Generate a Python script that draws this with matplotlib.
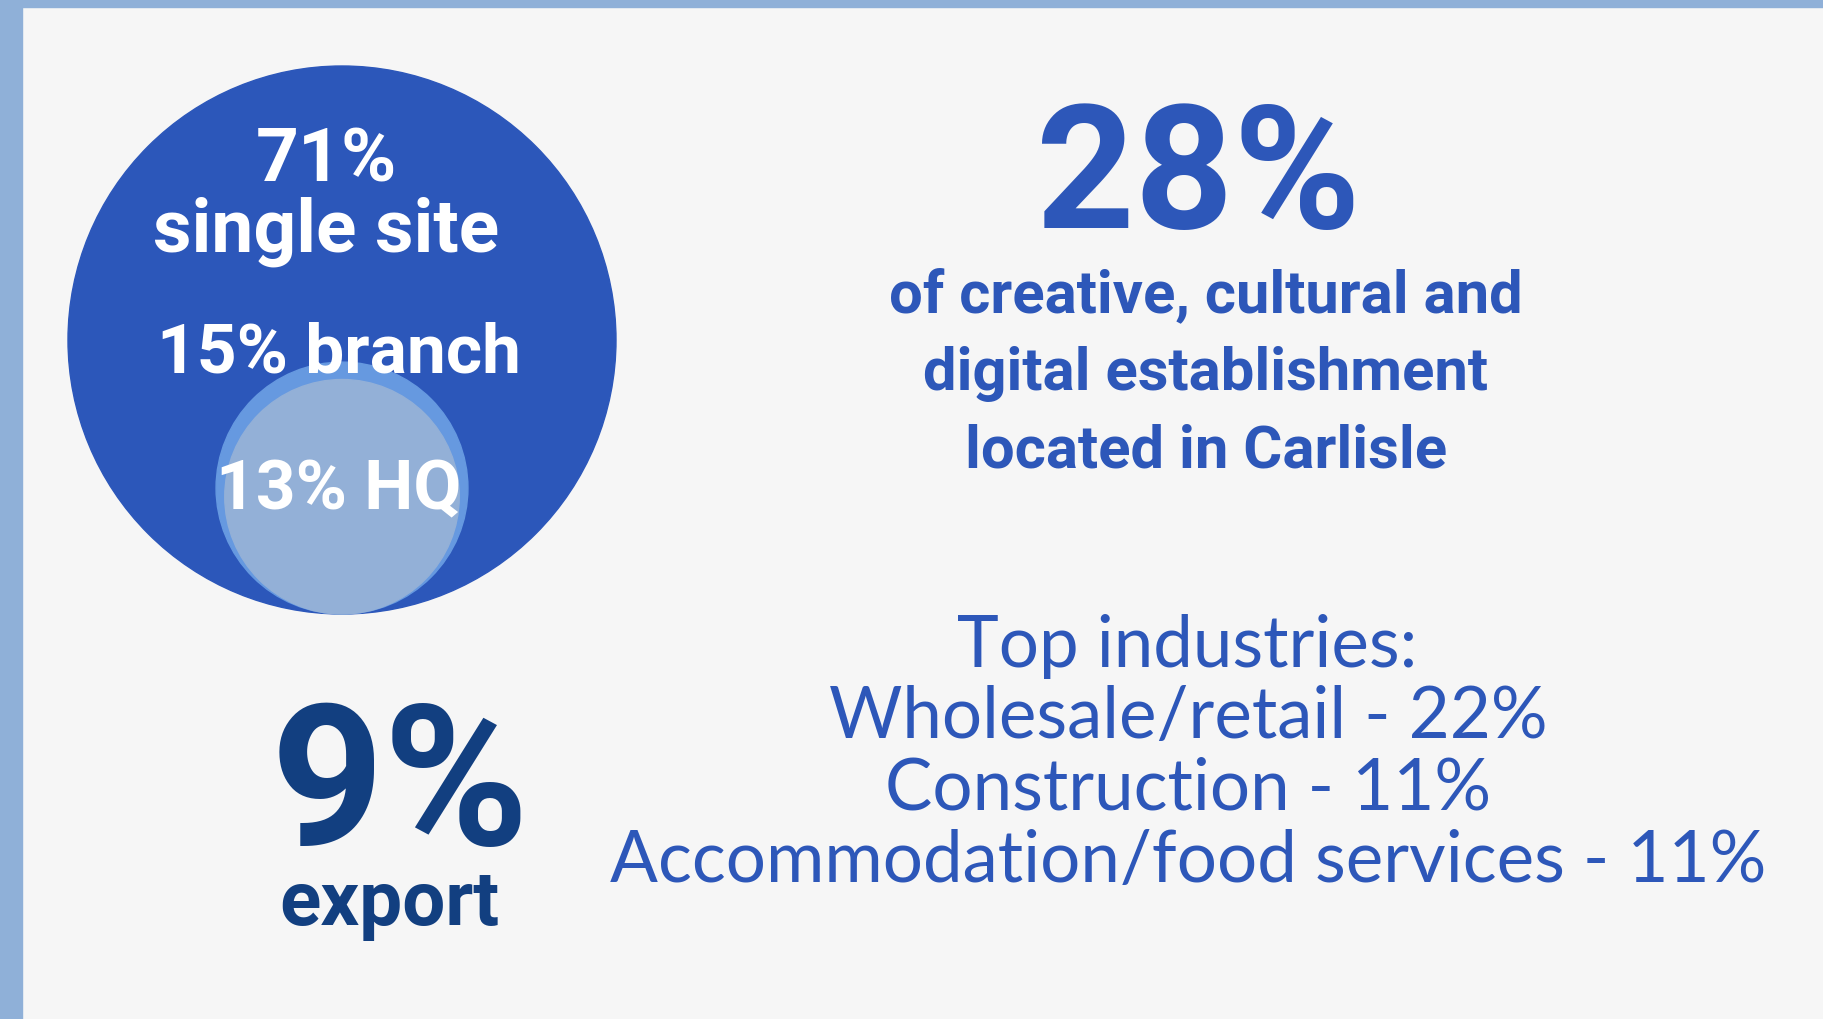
import numpy as np
import matplotlib
matplotlib.use("Agg")
import matplotlib.pyplot as plt
from matplotlib.patches import Circle, Rectangle

# Site type shares (%) - circle areas follow these
site_labels = ["single site", "branch", "HQ"]
site_shares = [71, 15, 13]

carlisle_share = 28
carlisle_lines = ["of creative, cultural and",
                  "digital establishment",
                  "located in Carlisle"]

export_share = 9

industries = ["Wholesale/retail", "Construction", "Accommodation/food services"]
industry_shares = [22, 11, 11]

blue = "#2d57b9"
navy = "#123f80"
border = "#8fb0d8"

W, H = 1824, 1019
fig = plt.figure(figsize=(W / 100, H / 100), dpi=100)
fig.patch.set_facecolor("#f6f6f6")
ax = fig.add_axes([0, 0, 1, 1])
ax.set_xlim(0, W)
ax.set_ylim(H, 0)
ax.set_aspect("equal")
ax.axis("off")

# frame strips
ax.add_patch(Rectangle((0, 0), 22, H, color=border, zorder=1))
ax.add_patch(Rectangle((0, 0), W, 7, color=border, zorder=1))

# nested circles, area proportional to share, all sitting on the same bottom point
cx, cy, R = 342, 340, 274
bottom = cy + R
r_branch = R * np.sqrt(site_shares[1] / site_shares[0])
r_hq = R * np.sqrt(site_shares[2] / site_shares[0])
ax.add_patch(Circle((cx, cy), R, color="#2c57ba", zorder=2))
ax.add_patch(Circle((cx, bottom - r_branch), r_branch, color="#6699e0", zorder=3))
ax.add_patch(Circle((cx, bottom - r_hq), r_hq, color="#93b0d7", zorder=4))

bold = dict(family="Roboto", weight="bold", ha="center", va="baseline")
ax.text(326, 181, f"{site_shares[0]}%", color="white", fontsize=54, zorder=5, **bold)
ax.text(326, 252, site_labels[0], color="white", fontsize=54, zorder=5, **bold)
ax.text(339, 372, f"{site_shares[1]}% {site_labels[1]}", color="white", fontsize=50, zorder=5, **bold)
ax.text(339, 509, f"{site_shares[2]}% {site_labels[2]}", color="white", fontsize=50, zorder=5, **bold)

# 28% block
ax.text(1198, 228, f"{carlisle_share}%", color=blue, fontsize=124, **bold)
for i, line in enumerate(carlisle_lines):
    ax.text(1206, 312 + 78 * i, line, color=blue, fontsize=43, **bold)

# export
ax.text(400, 845, f"{export_share}%", color=navy, fontsize=142, **bold)
ax.text(389, 925, "export", color=navy, fontsize=55, **bold)

# top industries
lato = dict(family="Lato", ha="center", va="baseline", color=blue, fontsize=51)
ax.text(1187, 667, "Top industries:", **lato)
for i, (name, val) in enumerate(zip(industries, industry_shares)):
    ax.text(1188, 738 + 72 * i, f"{name} - {val}%", **lato)

fig.savefig("out.png", dpi=100, facecolor=fig.get_facecolor())
